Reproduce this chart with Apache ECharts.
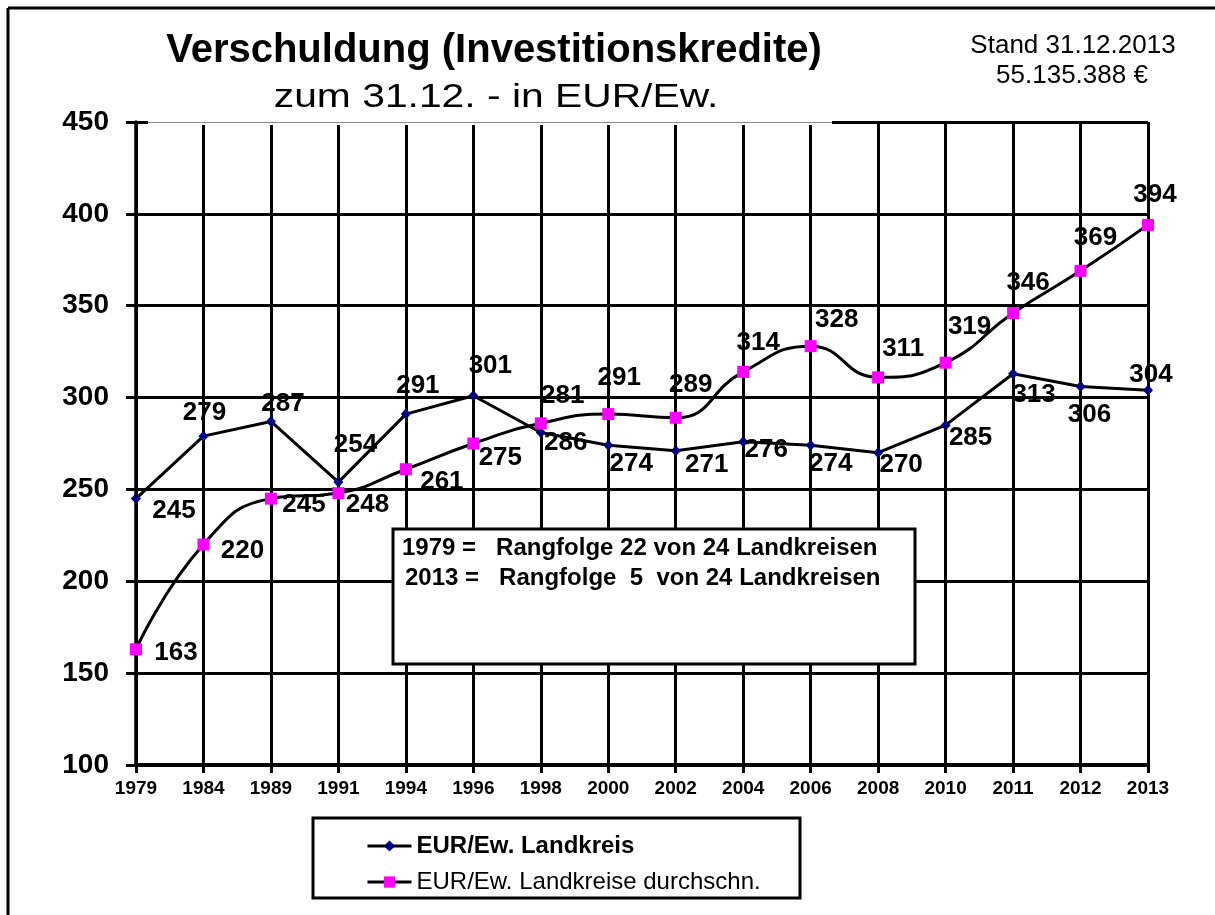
<!DOCTYPE html>
<html>
<head>
<meta charset="utf-8">
<title>Verschuldung (Investitionskredite)</title>
<script src="https://cdn.jsdelivr.net/npm/echarts@6/dist/echarts.min.js"></script>
<style>
  html, body { margin: 0; padding: 0; background: #fff; }
  #chart { width: 1215px; height: 915px; }
</style>
</head>
<body>
<div id="chart"></div>
<script>
  const years = ['1979', '1984', '1989', '1991', '1994', '1996', '1998', '2000',
    '2002', '2004', '2006', '2008', '2010', '2011', '2012', '2013'];
  const landkreis = [245, 279, 287, 254, 291, 301, 281, 274, 271, 276, 274, 270, 285, 313, 306, 304];
  const durchschnitt = [163, 220, 245, 248, 261, 275, 286, 291, 289, 314, 328, 311, 319, 346, 369, 394];
  const seriesNames = ['EUR/Ew. Landkreis', 'EUR/Ew. Landkreise durchschn.'];
  const yMin = 100;
  const yMax = 450;
  const yStep = 50;

  // where each value label sits relative to its point (style only)
  const offLandkreis = [[38, 12], [1, -23], [12, -18], [17, -37], [12, -28], [17, -30], [22, -37], [23, 18],
    [31, 14], [23, 8], [20, 18], [23, 12], [25, 13], [21, 21], [9, 28], [3, -15]];
  const offSchnitt = [[40, 4], [39, 6], [33, 6], [29, 12], [36, 13], [27, 14], [25, 20], [11, -36],
    [15, -33], [15, -29], [26, -26], [25, -29], [24, -36], [15, -30], [15, -33], [7, -30]];

  const font = "'Liberation Sans', Arial, Helvetica, sans-serif";
  const colors = ['#000080', '#ff00ff'];

  const chart = echarts.init(document.getElementById('chart'), null, { renderer: 'canvas' });

  function withLabels(values, offsets) {
    return values.map((v, i) => ({ value: v, label: { offset: offsets[i] } }));
  }

  const valueLabel = {
    show: true,
    position: 'inside',
    color: '#000',
    fontFamily: font,
    fontWeight: 'bold',
    fontSize: 26,
    textBorderWidth: 0
  };

  chart.setOption({
    animation: false,
    backgroundColor: '#fff',
    grid: { left: 136, right: 67, top: 122, bottom: 150 },
    xAxis: {
      type: 'category',
      data: years,
      boundaryGap: false,
      axisLine: { lineStyle: { color: '#000', width: 4 } },
      axisTick: { length: 8, lineStyle: { color: '#000', width: 3 } },
      axisLabel: { color: '#000', fontFamily: font, fontWeight: 'bold', fontSize: 19, margin: 14 },
      splitLine: { show: true, lineStyle: { color: '#000', width: 3 } }
    },
    yAxis: {
      type: 'value',
      min: yMin,
      max: yMax,
      interval: yStep,
      axisLine: { show: true, lineStyle: { color: '#000', width: 3.5 } },
      axisTick: { show: true, length: 10, lineStyle: { color: '#000', width: 3 } },
      axisLabel: { color: '#000', fontFamily: font, fontWeight: 'bold', fontSize: 28, margin: 27 },
      splitLine: { show: true, lineStyle: { color: '#000', width: 3 } }
    },
    legend: {
      orient: 'vertical',
      left: 361,
      top: 829,
      itemWidth: 44,
      itemHeight: 14,
      itemGap: 12,
      data: seriesNames,
      lineStyle: { width: 3 },
      formatter: name => name === seriesNames[0] ? '{b|' + name + '}' : name,
      textStyle: {
        color: '#000', fontFamily: font, fontSize: 24,
        rich: { b: { color: '#000', fontFamily: font, fontSize: 24, fontWeight: 'bold' } }
      }
    },
    series: [
      {
        name: seriesNames[0],
        type: 'line',
        data: withLabels(landkreis, offLandkreis),
        symbol: 'diamond',
        symbolSize: [10, 11],
        itemStyle: { color: colors[0] },
        lineStyle: { color: '#000', width: 3 },
        label: valueLabel,
        z: 3
      },
      {
        name: seriesNames[1],
        type: 'line',
        data: withLabels(durchschnitt, offSchnitt),
        smooth: 0.5,
        symbol: 'rect',
        symbolSize: 12,
        itemStyle: { color: colors[1] },
        lineStyle: { color: '#000', width: 3 },
        label: valueLabel,
        z: 4
      }
    ],
    graphic: [
      // outer frame (top and left edge only)
      { type: 'line', shape: { x1: 8, y1: 8, x2: 1215, y2: 8 }, style: { stroke: '#000', lineWidth: 3 }, z: 10 },
      { type: 'line', shape: { x1: 8, y1: 8, x2: 8, y2: 915 }, style: { stroke: '#000', lineWidth: 3 }, z: 10 },
      // the title box hides part of the top grid line
      { type: 'rect', shape: { x: 148, y: 119, width: 684, height: 6 }, style: { fill: '#fff' }, z: 10 },
      { type: 'line', shape: { x1: 148, y1: 122.5, x2: 832, y2: 122.5 }, style: { stroke: '#888', lineWidth: 1 }, z: 11 },
      {
        type: 'text', x: 494, y: 51, z: 12,
        style: { text: 'Verschuldung (Investitionskredite)', fill: '#000', fontFamily: font, fontWeight: 'bold', fontSize: 40, align: 'center', verticalAlign: 'middle' }
      },
      {
        type: 'text', x: 496, y: 98, z: 12, scaleX: 1.2,
        style: { text: 'zum 31.12. - in EUR/Ew.', fill: '#000', fontFamily: font, fontSize: 34, align: 'center', verticalAlign: 'middle' }
      },
      {
        type: 'text', x: 1073, y: 46, z: 12,
        style: { text: 'Stand 31.12.2013', fill: '#000', fontFamily: font, fontSize: 26, align: 'center', verticalAlign: 'middle' }
      },
      {
        type: 'text', x: 1072, y: 76, z: 12,
        style: { text: '55.135.388 €', fill: '#000', fontFamily: font, fontSize: 26, align: 'center', verticalAlign: 'middle' }
      },
      // ranking note
      { type: 'rect', shape: { x: 393, y: 529, width: 522, height: 135 }, style: { fill: '#fff', stroke: '#000', lineWidth: 3 }, z: 12 },
      {
        type: 'text', x: 402, y: 548, z: 13,
        style: { text: '1979 =   Rangfolge 22 von 24 Landkreisen', fill: '#000', fontFamily: font, fontWeight: 'bold', fontSize: 24, align: 'left', verticalAlign: 'middle' }
      },
      {
        type: 'text', x: 405, y: 578, z: 13,
        style: { text: '2013 =   Rangfolge  5  von 24 Landkreisen', fill: '#000', fontFamily: font, fontWeight: 'bold', fontSize: 24, align: 'left', verticalAlign: 'middle' }
      },
      // legend frame
      { type: 'rect', shape: { x: 313, y: 818, width: 487, height: 80 }, style: { fill: 'none', stroke: '#000', lineWidth: 3 }, z: 12 }
    ]
  });
</script>
</body>
</html>
